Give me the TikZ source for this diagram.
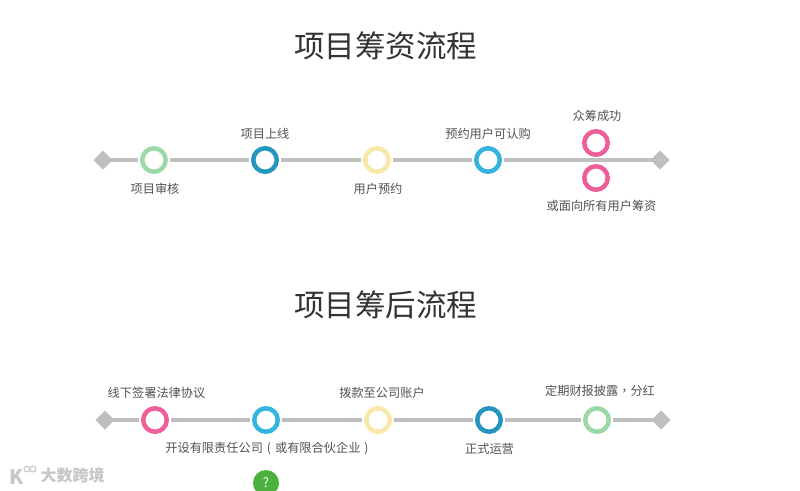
\documentclass[tikz,border=0pt]{standalone}
\usepackage{fontspec}
\setmainfont{Noto Sans CJK SC}
\newfontfamily\tcfont{Noto Sans CJK TC}
\usepackage{xcolor}
\usetikzlibrary{shapes.geometric, positioning}
\definecolor{ringgreen}{HTML}{9BD9A9}
\definecolor{ringdeep}{HTML}{2596BE}
\definecolor{ringyellow}{HTML}{F8E9A8}
\definecolor{ringsky}{HTML}{36B4E0}
\definecolor{ringpink}{HTML}{EE5E98}
\definecolor{helpgreen}{HTML}{4BB03C}
\tikzset{
  ring/.style={circle,draw=#1,line width=4.5pt,fill=white,minimum size=23.5pt,
    inner sep=0pt,outer sep=4.25pt},
  endmark/.style={diamond,fill=black!25,minimum size=19pt,inner sep=0pt,outer sep=0pt},
  track/.style={line width=4pt,draw=black!25},
  tag/.style={inner sep=0pt,font=\fontsize{12.2pt}{14pt}\selectfont,text=black!68},
  headline/.style={inner sep=0pt,font=\fontsize{30.5pt}{36pt}\selectfont,text=black!80}
}
\begin{document}
\begin{tikzpicture}[x=1pt,y=-1pt,node distance=4pt]
  \clip (0,0) rectangle (800,490);
  \fill[white] (0,0) rectangle (800,490);

  \node[headline] (title1) at (385.5,45.5) {项目筹资流程};
  \node[endmark] (start1) at (103,160) {};
  \node[ring=ringgreen] (a1) at (154,160) {};
  \node[ring=ringdeep] (a2) at (265,160) {};
  \node[ring=ringyellow] (a3) at (377,160) {};
  \node[ring=ringsky] (a4) at (488,160) {};
  \node[endmark] (end1) at (660,160) {};
  \draw[track] (start1.center) -- (a1);
  \draw[track] (a1) -- (a2);
  \draw[track] (a2) -- (a3);
  \draw[track] (a3) -- (a4);
  \draw[track] (a4) -- (end1.center);
  \node[ring=ringpink] (a5) at (596,143) {};
  \node[ring=ringpink] (a6) at (596,178) {};
  \node[tag, below=7pt of a1, xshift=1pt] (t1) {项目审核};
  \node[tag, above=of a2] (t2) {项目上线};
  \node[tag, below=7pt of a3, xshift=1pt] (t3) {用户预约};
  \node[tag, above=of a4] (t4) {预约用户可认购};
  \node[tag, above=5pt of a5, xshift=1pt] (t5) {众筹成功};
  \node[tag, below=5.5pt of a6, xshift=5.5pt] (t6) {或面向所有用户筹资};

  \node[headline] (title2) at (385.5,304.5) {项目筹后流程};
  \node[endmark] (start2) at (105,420) {};
  \node[ring=ringpink] (b1) at (155,420) {};
  \node[ring=ringsky] (b2) at (266,420) {};
  \node[ring=ringyellow] (b3) at (378,420) {};
  \node[ring=ringdeep] (b4) at (489,420) {};
  \node[ring=ringgreen] (b5) at (597,420) {};
  \node[endmark] (end2) at (661,420) {};
  \draw[track] (start2.center) -- (b1);
  \draw[track] (b1) -- (b2);
  \draw[track] (b2) -- (b3);
  \draw[track] (b3) -- (b4);
  \draw[track] (b4) -- (b5);
  \draw[track] (b5) -- (end2.center);
  \node[tag, above=5pt of b1, xshift=1.5pt] (s1) {线下签署法律协议};
  \node[tag, below=6pt of b2, xshift=1pt] (s2) {开设有限责任公司\hspace{4pt}(\hspace{4pt}或有限合伙企业\hspace{4pt})\hspace{4pt}};
  \node[tag, above=5pt of b3, xshift=4pt] (s3) {拨款至公司账户};
  \node[tag, below=7pt of b4, xshift=0.5pt] (s4) {正式运营};
  \node[tag, above=7pt of b5, xshift=3pt] (s5) {定期财报披露{\tcfont ，}分红};

  % help button, cut by the lower edge
  \node[circle,fill=helpgreen,minimum size=26pt,inner sep=0pt,
    text=white,font=\fontsize{13pt}{14pt}\selectfont] (help) at (266,483) {?};

  % watermark
  \node[inner sep=0pt,text=black!22,font=\bfseries\fontsize{20pt}{20pt}\selectfont] (wmk) at (17,477) {K};
  \node[circle,draw=black!22,line width=1pt,minimum size=6pt,inner sep=0pt] (wm1) at (27,469) {};
  \node[circle,draw=black!22,line width=1pt,minimum size=6pt,inner sep=0pt] (wm2) at (33,469) {};
  \node[inner sep=0pt,text=black!22,font=\bfseries\fontsize{16pt}{18pt}\selectfont] (wmtext) at (72.5,475) {大数跨境};
\end{tikzpicture}
\end{document}
